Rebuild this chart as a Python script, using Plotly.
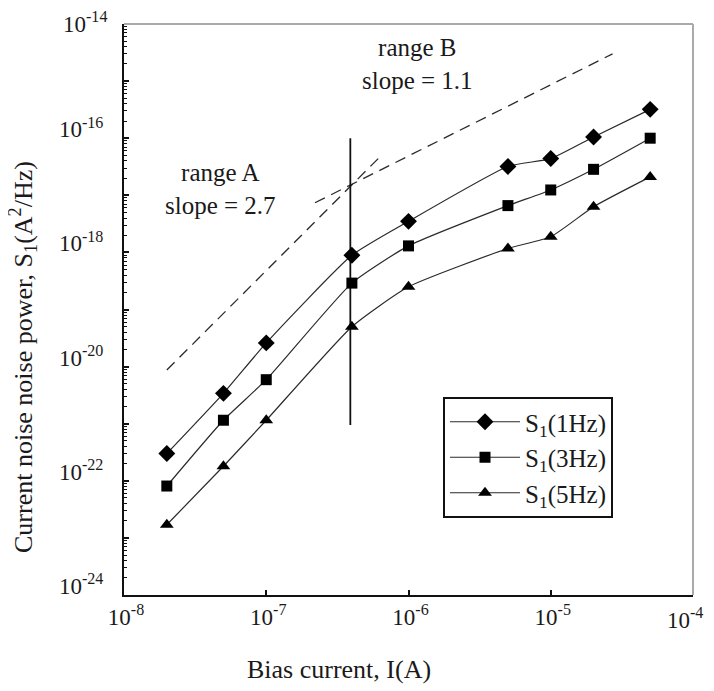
import plotly.graph_objects as go

# ---- data ----
bias_current = [2e-8, 5e-8, 1e-7, 4e-7, 1e-6, 5e-6, 1e-5, 2e-5, 5e-5]
s1_1hz = [3.0e-22, 3.4e-21, 2.6e-20, 8.9e-19, 3.5e-18, 3.2e-17, 4.4e-17, 1.05e-16, 3.2e-16]
s1_3hz = [8.1e-23, 1.15e-21, 5.9e-21, 2.9e-19, 1.3e-18, 6.6e-18, 1.24e-17, 2.85e-17, 1.0e-16]
s1_5hz = [1.7e-23, 1.8e-22, 1.15e-21, 5.0e-20, 2.5e-19, 1.17e-18, 1.88e-18, 6.3e-18, 2.1e-17]

series_names = ["S<sub>1</sub>(1Hz)", "S<sub>1</sub>(3Hz)", "S<sub>1</sub>(5Hz)"]

# guide lines (data units)
range_a_x = [2.0e-8, 6.5e-7]
range_a_y = [8.7e-21, 5.1e-17]
range_b_x = [2.2e-7, 2.72e-5]
range_b_y = [7.4e-18, 3.0e-15]
boundary_x = [3.9e-7, 3.9e-7]
boundary_y = [1e-16, 9.5e-22]

x_tick_vals = [1e-8, 1e-7, 1e-6, 1e-5, 1e-4]
x_tick_text = ["10<sup>-8</sup>", "10<sup>-7</sup>", "10<sup>-6</sup>", "10<sup>-5</sup>", ""]
x_last_label = "10<sup>-4</sup>"   # last x tick label, nudged left so it fits in the window
y_tick_vals = [1e-24, 1e-23, 1e-22, 1e-21, 1e-20, 1e-19, 1e-18, 1e-17, 1e-16, 1e-15, 1e-14]
y_tick_text = ["10<sup>-24</sup>", "", "10<sup>-22</sup>", "", "10<sup>-20</sup>", "",
               "10<sup>-18</sup>", "", "10<sup>-16</sup>", "", ""]
y_top_label = "10<sup>-14</sup>"   # top tick label, drawn a little lower so it fits

FONT = "Liberation Serif, Times New Roman, serif"
INK = "#1a1a1a"

# the page body adds an 8px margin, so the figure is offset by 8px on the top/left
PX_L, PX_T = 124, 24          # screen position of plot area
PLOT_W, PLOT_H = 569, 571

fig = go.Figure()

# guide lines
fig.add_trace(go.Scatter(x=range_a_x, y=range_a_y, mode="lines", showlegend=False,
                         line=dict(color="#2a2a2a", width=1.3, dash="11px,7px"), hoverinfo="skip"))
fig.add_trace(go.Scatter(x=range_b_x, y=range_b_y, mode="lines", showlegend=False,
                         line=dict(color="#2a2a2a", width=1.3, dash="11px,7px"), hoverinfo="skip"))
fig.add_trace(go.Scatter(x=boundary_x, y=boundary_y, mode="lines", showlegend=False,
                         line=dict(color="#111111", width=1.8), hoverinfo="skip"))

symbols = ["diamond", "square", "triangle-up"]
sizes = [13, 11, 12]
for name, ys, sym, sz in zip(series_names, [s1_1hz, s1_3hz, s1_5hz], symbols, sizes):
    fig.add_trace(go.Scatter(
        x=bias_current, y=ys, name=name, mode="lines+markers",
        line=dict(color="#2a2a2a", width=1.2, shape="spline", smoothing=0.5),
        marker=dict(symbol=sym, size=sz, color="black"),
    ))


def px(x):
    return (x - PX_L) / PLOT_W


def py(y):
    return 1 - (y - PX_T) / PLOT_H


fig.update_layout(
    width=706, height=683,
    margin=dict(l=PX_L - 8, r=21, t=PX_T - 8, b=96, autoexpand=False),
    paper_bgcolor="white", plot_bgcolor="white",
    font=dict(family=FONT, size=22, color=INK),
    legend=dict(x=px(443), y=py(397), xanchor="left", yanchor="top",
                bordercolor="#111111", borderwidth=2, bgcolor="white",
                font=dict(size=25, family=FONT, color=INK), tracegroupgap=0, itemwidth=70),
    xaxis=dict(type="log", range=[-8, -4], tickmode="array",
               tickvals=x_tick_vals, ticktext=x_tick_text,
               ticks="inside", ticklen=5, tickwidth=1.5, tickcolor="#111",
               showline=True, linecolor="#111111", linewidth=2,
               showgrid=False, zeroline=False, ticklabelshift=2,
               automargin=False, ticklabeloverflow="allow",
               tickfont=dict(size=23, family=FONT, color=INK)),
    yaxis=dict(type="log", range=[-24, -14], tickmode="array",
               tickvals=y_tick_vals, ticktext=y_tick_text,
               ticks="inside", ticklen=5, tickwidth=1.5, tickcolor="#111",
               showline=True, linecolor="#111111", linewidth=2,
               showgrid=False, zeroline=False,
               minor=dict(ticks="inside", ticklen=3, tickwidth=1, tickcolor="#111", dtick="D1", showgrid=False),
               tickfont=dict(size=23, family=FONT, color=INK), ticklabelstandoff=14,
               ticklabelshift=-9, automargin=False, ticklabeloverflow="allow"),
    shapes=[
        dict(type="line", xref="paper", yref="paper", x0=0, x1=1, y0=1, y1=1,
             line=dict(color="#aaaaaa", width=2)),
        dict(type="line", xref="paper", yref="paper", x0=1, x1=1, y0=0, y1=1,
             line=dict(color="#aaaaaa", width=2)),
    ],
    annotations=[
        dict(text=y_top_label, xref="paper", yref="paper",
             x=px(109), y=py(23), showarrow=False, xanchor="right", yanchor="middle",
             font=dict(size=23, family=FONT, color=INK)),
        dict(text=x_last_label, xref="paper", yref="paper",
             x=px(705), y=py(618), showarrow=False, xanchor="right", yanchor="middle",
             font=dict(size=23, family=FONT, color=INK)),
        dict(text="range B<br>slope = 1.1", xref="paper", yref="paper",
             x=px(417.5), y=py(64), showarrow=False, xanchor="center", yanchor="middle",
             font=dict(size=25, family=FONT, color=INK), align="center"),
        dict(text="range A<br>slope = 2.7", xref="paper", yref="paper",
             x=px(220), y=py(189), showarrow=False, xanchor="center", yanchor="middle",
             font=dict(size=25, family=FONT, color=INK), align="center"),
        dict(text="Bias current, I(A)", xref="paper", yref="paper",
             x=px(339), y=py(669), showarrow=False, xanchor="center", yanchor="middle",
             font=dict(size=26, family=FONT, color=INK)),
        dict(text="Current noise noise power, S<sub>1</sub>(A<sup>2</sup>/Hz)", xref="paper", yref="paper",
             x=px(23), y=py(357), showarrow=False, textangle=-90, xanchor="center", yanchor="middle",
             font=dict(size=26, family=FONT, color=INK)),
    ],
)

fig.write_html("out.html")
